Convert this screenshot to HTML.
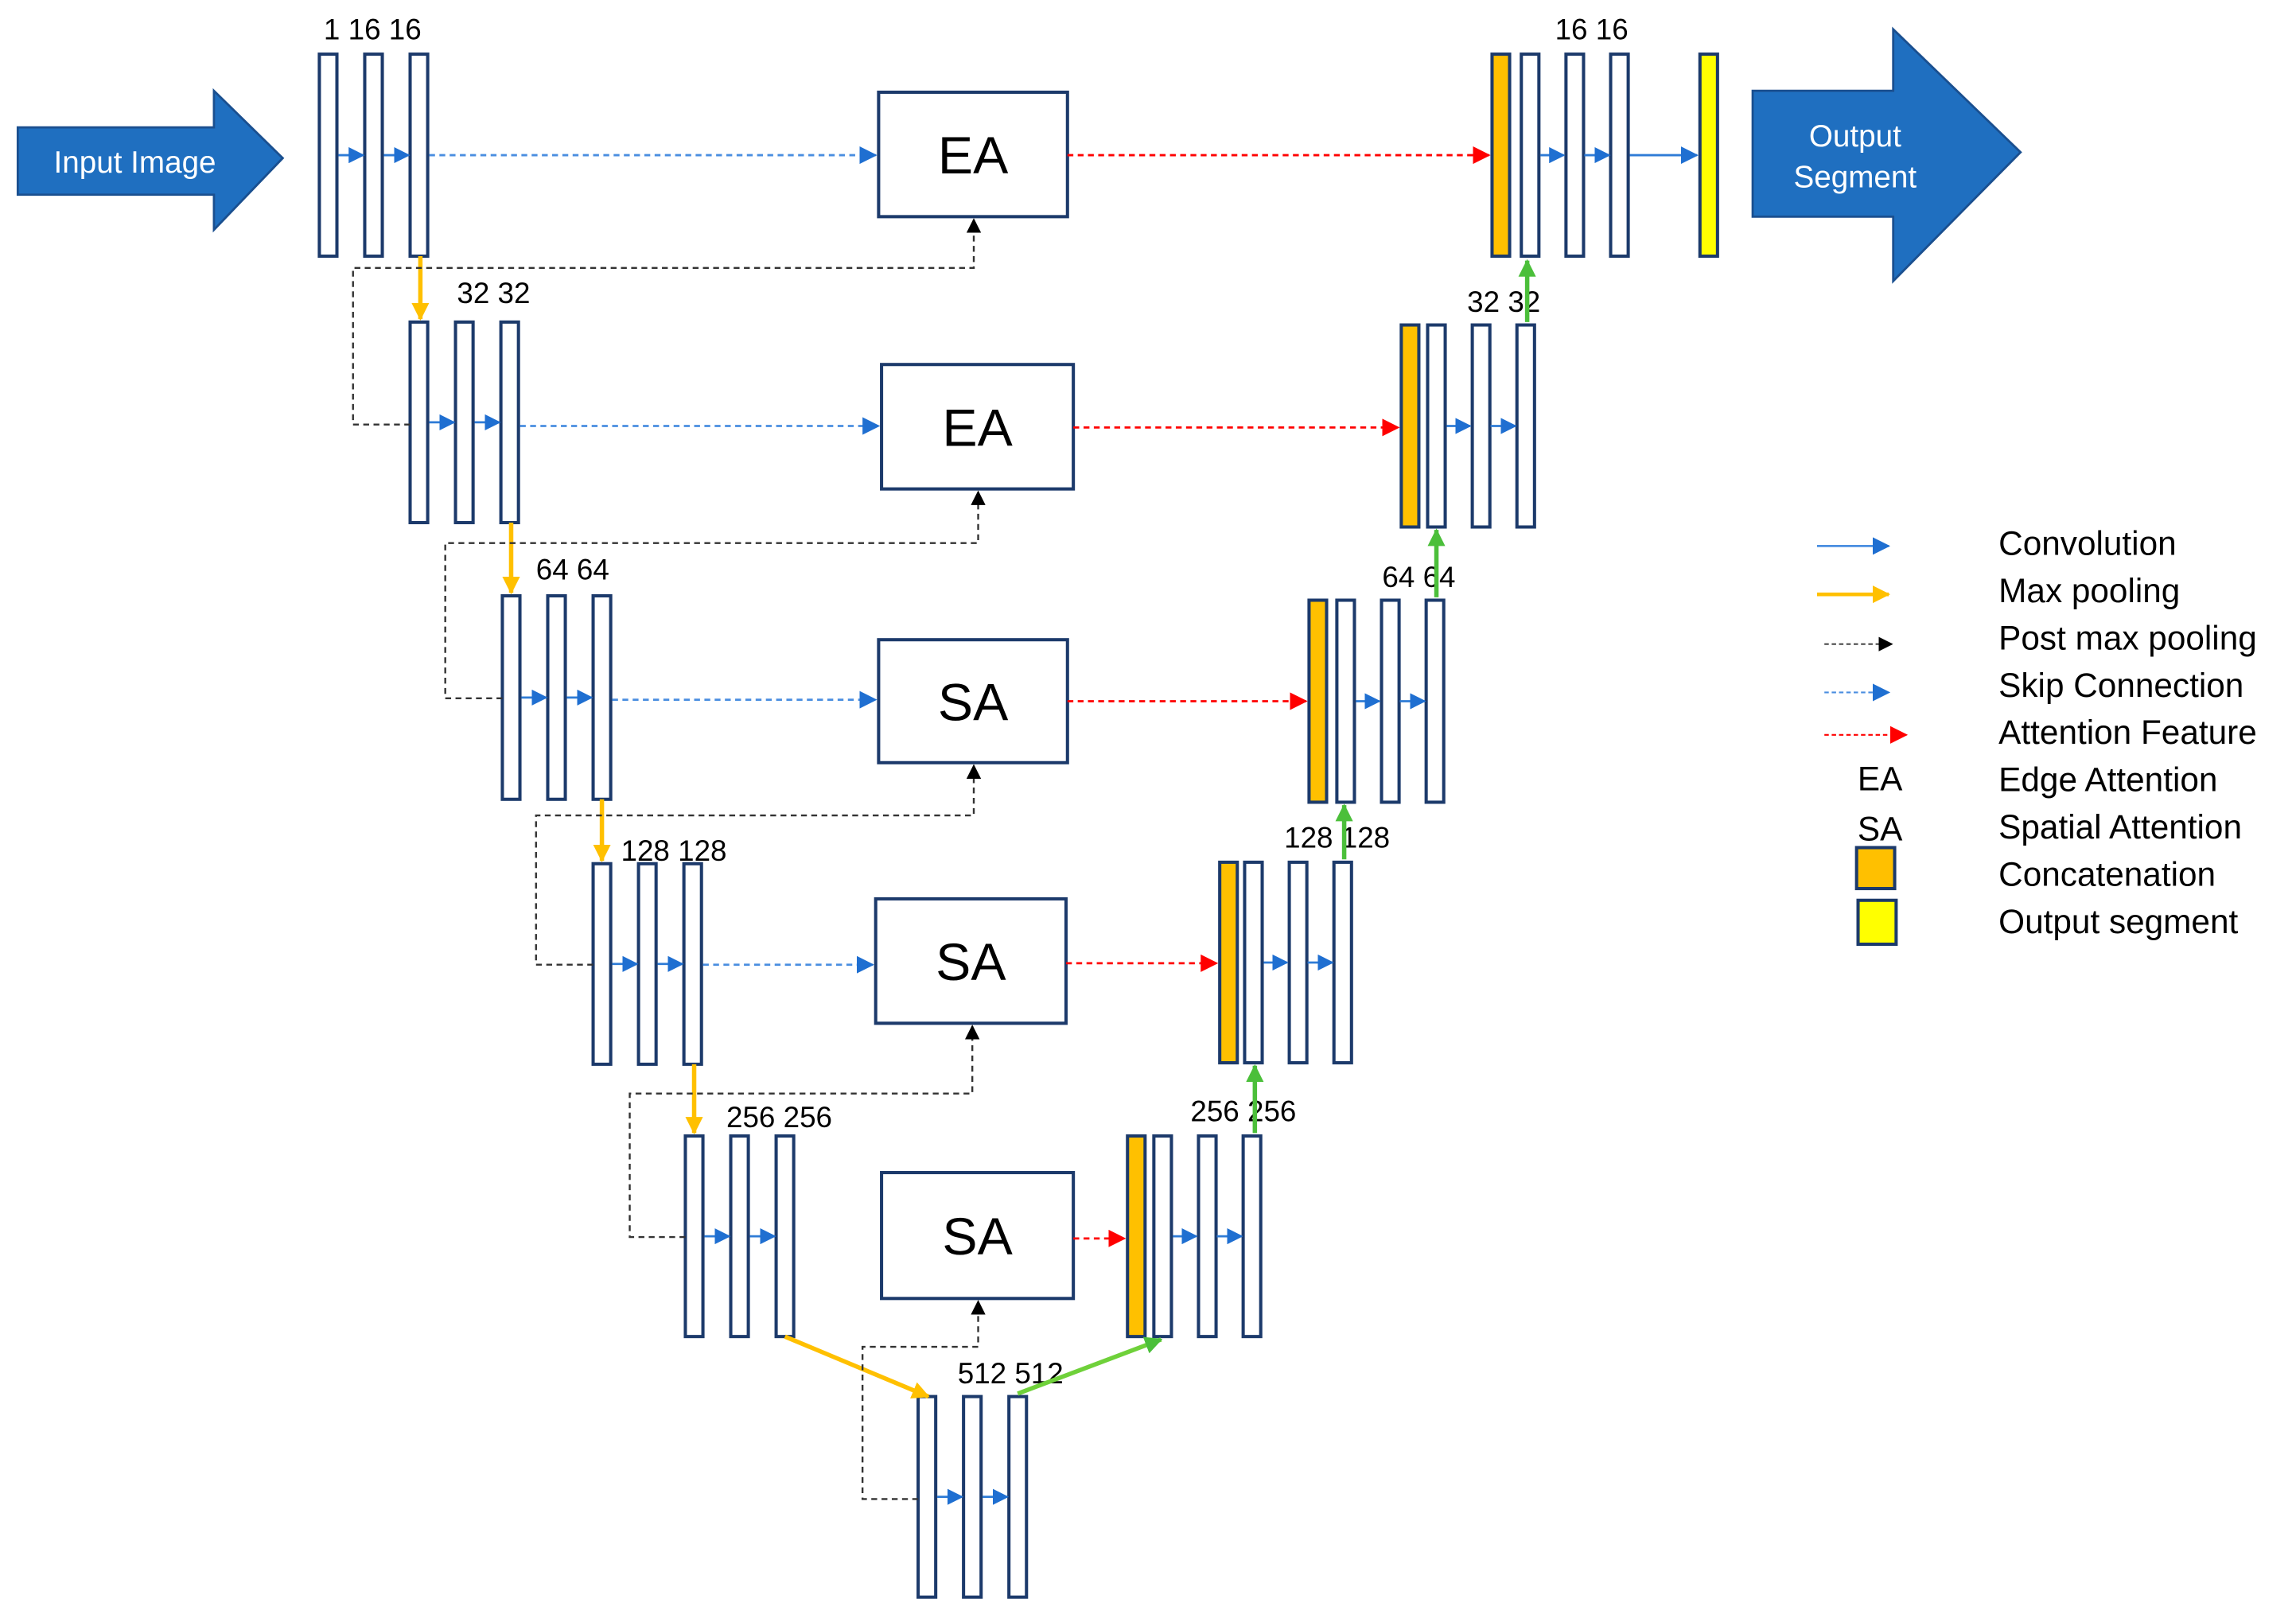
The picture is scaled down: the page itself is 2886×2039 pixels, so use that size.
<!DOCTYPE html>
<html><head><meta charset="utf-8"><style>
html,body{margin:0;padding:0;background:#fff;}
svg{display:block;}
text{font-family:"Liberation Sans",sans-serif;}
</style></head><body>
<svg id="s" width="2886" height="2039" viewBox="0 0 1568 1108" xmlns="http://www.w3.org/2000/svg">
<defs>
<marker id="mb" markerWidth="11" markerHeight="11" refX="10" refY="5.5" orient="auto" markerUnits="userSpaceOnUse"><path d="M0,0 L11,5.5 L0,11z" fill="#1f6fd1"/></marker>
<marker id="mbl" markerWidth="12" markerHeight="12" refX="11" refY="6" orient="auto" markerUnits="userSpaceOnUse"><path d="M0,0 L12,6 L0,12z" fill="#1f6fd1"/></marker>
<marker id="mk" markerWidth="10" markerHeight="10" refX="9" refY="5" orient="auto" markerUnits="userSpaceOnUse"><path d="M0,0 L10,5 L0,10z" fill="#000"/></marker>
<marker id="mr" markerWidth="12" markerHeight="12" refX="11" refY="6" orient="auto" markerUnits="userSpaceOnUse"><path d="M0,0 L12,6 L0,12z" fill="#f00"/></marker>
<marker id="my" markerWidth="12" markerHeight="12" refX="11" refY="6" orient="auto" markerUnits="userSpaceOnUse"><path d="M0,0 L12,6 L0,12z" fill="#ffc000"/></marker>
<marker id="mg" markerWidth="12" markerHeight="12" refX="11" refY="6" orient="auto" markerUnits="userSpaceOnUse"><path d="M0,0 L12,6 L0,12z" fill="#4bbf3a"/></marker>
</defs>
<polygon points="12,87 146,87 146,62 193,108 146,157 146,133 12,133" fill="#1f6fc0" stroke="#1a4f8f" stroke-width="1.5"/>
<text x="92" y="118" font-size="21" fill="#fff" text-anchor="middle">Input Image</text>
<polygon points="1197,62 1293,62 1293,20 1380,104 1293,192 1293,148 1197,148" fill="#1f6fc0" stroke="#1a4f8f" stroke-width="1.5"/>
<text x="1267" y="100" font-size="21" fill="#fff" text-anchor="middle">Output</text>
<text x="1267" y="128" font-size="21" fill="#fff" text-anchor="middle">Segment</text>
<g id="g"></g>
</svg>
<script>
const g=document.getElementById('g');let h='';
function R(x,y,w,hh,f){h+=`<rect x="${x}" y="${y}" width="${w}" height="${hh}" fill="${f||'#fff'}" stroke="#1c3a6b" stroke-width="2.2"/>`;}
function L(pts,c,w,d,m){h+=`<polyline points="${pts}" fill="none" stroke="${c}" stroke-width="${w}" ${d?`stroke-dasharray="${d}"`:''} ${m?`marker-end="url(#${m})"`:''}/>`;}
function T(x,y,s,t,a){h+=`<text x="${x}" y="${y}" font-size="${s}" fill="#000" ${a?`text-anchor="${a}"`:''}>${t}</text>`;}
const enc=[[218,37,175,'1 16 16',221,27],[280,220,357,'32 32',312,207],[343,407,546,'64 64',366,396],[405,590,727,'128 128',424,588],[468,776,913,'256 256',496,770],[627,954,1091,'512 512',654,945]];
enc.forEach(e=>{const[x,y1,y2,lab,lx,ly]=e;const m=(y1+y2)/2;
 for(let i=0;i<3;i++)R(x+31*i,y1,12,y2-y1);
 L(`${x+13},${m} ${x+30},${m}`,'#2e7bd6',1.5,null,'mb');L(`${x+44},${m} ${x+61},${m}`,'#2e7bd6',1.5,null,'mb');
 T(lx,ly,20,lab);});
const box=[[600,63,129,85,'EA'],[602,249,131,85,'EA'],[600,437,129,84,'SA'],[598,614,130,85,'SA'],[602,801,131,86,'SA']];
box.forEach(b=>{R(b[0],b[1],b[2],b[3]);T(b[0]+b[2]/2,b[1]+b[3]/2+13,36,b[4],'middle');});
[[293,106,598],[355,291,600],[418,478,598],[480,659,596]].forEach(s=>L(`${s[0]},${s[1]} ${s[2]},${s[1]}`,'#4a8ee0',1.5,'4,3','mbl'));
const dec=[[1019,37,175,1039],[957,222,360,975],[894,410,548,913],[833,589,726,850],[770,776,913,788]];
dec.forEach(d=>{const[ox,y1,y2,bx]=d;const m=(y1+y2)/2;R(ox,y1,12,y2-y1,'#ffc000');
 for(let i=0;i<3;i++)R(bx+30.5*i,y1,12,y2-y1);
 L(`${bx+13},${m} ${bx+29},${m}`,'#2e7bd6',1.5,null,'mb');L(`${bx+43},${m} ${bx+60},${m}`,'#2e7bd6',1.5,null,'mb');});
R(1161,37,12,138,'#ffff00');L(`1113,106 1159,106`,'#2e7bd6',1.5,null,'mbl');
[[729,106,1017],[733,292,955],[729,479,892],[728,658,831],[733,846,768]].forEach(a=>L(`${a[0]},${a[1]} ${a[2]},${a[1]}`,'#f00',1.5,'4,3','mr'));
T(1062,27,20,'16 16');T(1002,213,20,'32 32');T(944,401,20,'64 64');T(877,579,20,'128 128');T(813,766,20,'256 256');
[[1043,220,178],[981,408,362],[918,587,550],[857,774,728]].forEach(a=>L(`${a[0]},${a[1]} ${a[0]},${a[2]}`,'#4bbf3a',3,null,'mg'));
L('695,952 793,915','#6fd13a',3,null,'mg');
[[287,175,218],[349,357,405],[411,546,588],[474,727,774]].forEach(a=>L(`${a[0]},${a[1]} ${a[0]},${a[2]}`,'#ffc000',3,null,'my'));
L('536,913 634,954','#ffc000',3,null,'my');
[[280,290,241,183,665,150],[343,477,304,371,668,336],[405,659,366,557,665,523],[468,845,430,747,664,701],[627,1024,589,920,668,889]].forEach(p=>L(`${p[0]},${p[1]} ${p[2]},${p[1]} ${p[2]},${p[3]} ${p[4]},${p[3]} ${p[4]},${p[5]}`,'#333',1.3,'4,3','mk'));
L('1241,373 1290,373','#4a8ee0',1.5,null,'mbl');L('1241,406 1290,406','#ffc000',2.5,null,'my');
L('1246,440 1292,440','#333',1,'3,2','mk');L('1246,473 1290,473','#4a8ee0',1.2,'3,2','mbl');L('1246,502 1302,502','#f00',1.2,'3,2','mr');
T(1284,540,23,'EA','middle');T(1284,574,23,'SA','middle');
R(1268,579,26,28,'#ffc000');R(1269,615,26,30,'#ffff00');
['Convolution','Max pooling','Post max pooling','Skip Connection','Attention Feature','Edge Attention','Spatial Attention','Concatenation','Output segment'].forEach((t,i)=>T(1365,379+i*32.3,23,t));
g.innerHTML=h;
</script>
</body></html>
